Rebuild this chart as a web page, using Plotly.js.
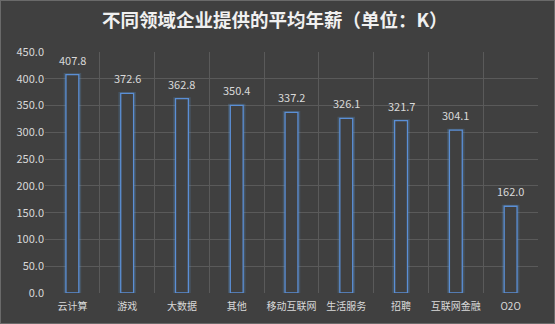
<!DOCTYPE html>
<html><head><meta charset="utf-8">
<script src="https://cdn.plot.ly/plotly-3.0.1.min.js"></script>
<style>html,body{margin:0;padding:0;background:#404040;}#c{width:553px;height:322px;border:1px solid #6a6a6a;}</style>
</head><body><div id="c"></div>
<script>
const categories = ["云计算","游戏","大数据","其他","移动互联网","生活服务","招聘","互联网金融","O2O"];
const salaries = [407.8,372.6,362.8,350.4,337.2,326.1,321.7,304.1,162.0];
const labels = salaries.map(v => v.toFixed(1));
const tickVals = [0,50,100,150,200,250,300,350,400,450];
const tickText = tickVals.map(v => v.toFixed(1));

const font = "Noto Sans CJK SC, Microsoft YaHei, sans-serif";
const glow = {type:'bar', x:categories, y:salaries, width:0.265,
  marker:{color:'rgba(0,0,0,0)', line:{color:'rgba(91,155,213,0.22)', width:3}},
  hoverinfo:'skip', showlegend:false};
const bars = {type:'bar', x:categories, y:salaries, width:0.235,
  marker:{color:'#404040', line:{color:'#5b8fd6', width:1.3}},
  showlegend:false};
const annotations = categories.map((c,i)=>({x:c, y:salaries[i], text:labels[i], showarrow:false,
  yanchor:'bottom', yshift:5, font:{family:font, size:11, color:'#d9d9d9'}}));

Plotly.newPlot('c',[glow,bars],{
  width:553, height:322,
  paper_bgcolor:'#404040', plot_bgcolor:'#404040',
  margin:{l:44,r:16,t:51,b:30},
  barmode:'overlay',
  title:{text:'<b>不同领域企业提供的平均年薪（单位：K）</b>', x:0.495, xanchor:'center', y:0.94, yanchor:'middle',
    font:{family:font, size:18.5, color:'#f0f0f0'}},
  xaxis:{type:'category', tickson:'boundaries', showgrid:true, gridcolor:'#5a5a5a', gridwidth:1,
    ticks:'', showline:false, zeroline:false, tickangle:0, automargin:false, ticklabelstandoff:6,
    tickfont:{family:font, size:10, color:'#d9d9d9'}},
  yaxis:{range:[0,450], tickvals:tickVals, ticktext:tickText, showgrid:true, gridcolor:'#5a5a5a',
    zeroline:false, showline:false, ticks:'', automargin:false,
    tickfont:{family:font, size:11, color:'#d9d9d9'}},
  annotations:annotations
},{displayModeBar:false, staticPlot:true});
</script></body></html>
